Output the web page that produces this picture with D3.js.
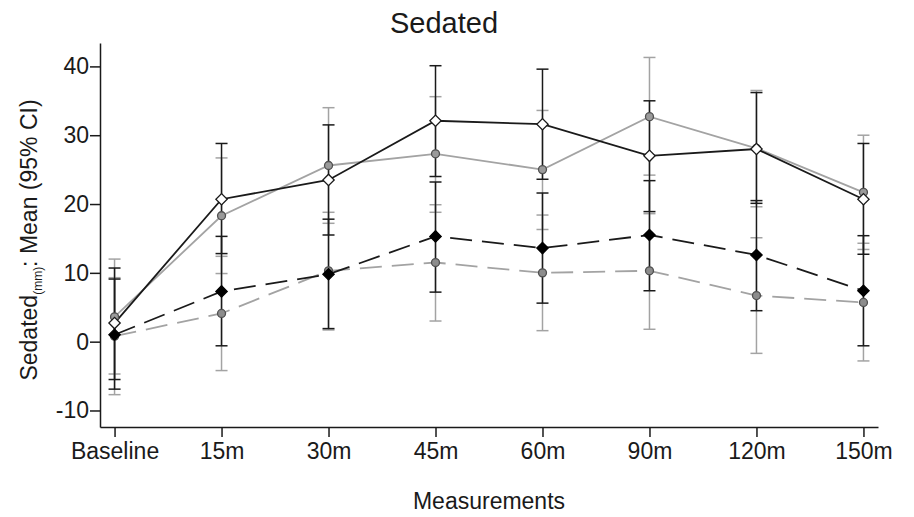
<!DOCTYPE html>
<html>
<head>
<meta charset="utf-8">
<script src="https://cdn.jsdelivr.net/npm/d3@7"></script>
<style>
  body { margin: 0; background: #fff; }
  text { font-family: "Liberation Sans", Arial, Helvetica, sans-serif; fill: #1a1a1a; }
</style>
</head>
<body>
<div id="chart" style="width:914px;height:517px;"></div>
<script>
// data
const categories = ["Baseline", "15m", "30m", "45m", "60m", "90m", "120m", "150m"];
const yTicks = [-10, 0, 10, 20, 30, 40];

// black solid, open diamond
const aMean = [2.7, 20.7, 23.5, 32.1, 31.6, 27.0, 28.0, 20.7];
const aLow  = [-5.5, 12.8, 15.5, 24.0, 23.6, 18.9, 20.1, 12.7];
const aHigh = [10.7, 28.8, 31.5, 40.1, 39.6, 35.0, 36.2, 28.8];

// grey solid, circle
const bMean = [3.6, 18.3, 25.6, 27.3, 25.0, 32.7, 28.1, 21.7];
const bLow  = [-4.7, 9.9, 17.2, 18.8, 16.3, 24.2, 19.6, 13.4];
const bHigh = [12.0, 26.7, 34.0, 35.6, 33.6, 41.3, 36.5, 30.0];

// black dashed, filled diamond
const cMean = [1.0, 7.3, 9.8, 15.3, 13.6, 15.5, 12.6, 7.4];
const cLow  = [-6.9, -0.6, 1.9, 7.2, 5.6, 7.4, 4.5, -0.6];
const cHigh = [9.1, 15.3, 17.8, 23.2, 21.6, 23.4, 20.5, 15.4];

// grey dashed, grey circle
const dMean = [0.8, 4.1, 10.3, 11.5, 10.0, 10.3, 6.7, 5.7];
const dLow  = [-7.7, -4.2, 1.7, 3.0, 1.6, 1.8, -1.7, -2.8];
const dHigh = [9.3, 12.4, 18.8, 19.9, 18.4, 18.6, 15.1, 14.3];

const width = 914, height = 517;
const margin = {top: 43, right: 36, bottom: 90, left: 100};

const svg = d3.select("#chart").append("svg")
    .attr("width", width)
    .attr("height", height);

const x = d3.scalePoint()
    .domain(categories)
    .range([margin.left, width - margin.right])
    .padding(0.136);

const y = d3.scaleLinear()
    .domain([-12.4, 43.4])
    .range([height - margin.bottom, margin.top]);

// axes
const xAxis = svg.append("g")
    .attr("class", "xAxis")
    .attr("transform", "translate(0," + (height - margin.bottom) + ")")
    .call(d3.axisBottom(x).tickSizeInner(10).tickSizeOuter(0).tickPadding(6));

const yAxis = svg.append("g")
    .attr("class", "yAxis")
    .attr("transform", "translate(" + margin.left + ",0)")
    .call(d3.axisLeft(y).tickValues(yTicks).tickFormat(d => String(d)).tickSizeInner(10).tickSizeOuter(0).tickPadding(1));

svg.selectAll(".xAxis, .yAxis")
    .selectAll("path, line")
    .attr("stroke", "#1a1a1a")
    .attr("stroke-width", 1.5);
svg.selectAll(".xAxis text, .yAxis text")
    .attr("font-size", 23)
    .attr("fill", "#1a1a1a");

// series setup
const series = [
    {mean: bMean, low: bLow, high: bHigh, color: "#a3a3a3", dash: null, marker: "circle", fill: "#9a9a9a", stroke: "#505050"},
    {mean: dMean, low: dLow, high: dHigh, color: "#a3a3a3", dash: "22,10", marker: "circle", fill: "#8c8c8c", stroke: "#505050"},
    {mean: aMean, low: aLow, high: aHigh, color: "#1a1a1a", dash: null, marker: "diamond", fill: "#ffffff", stroke: "#1a1a1a"},
    {mean: cMean, low: cLow, high: cHigh, color: "#1a1a1a", dash: "22,10", marker: "diamond", fill: "#000000", stroke: "#000000"}
];

const plot = svg.append("g").attr("id", "plot");
const capW = 6;

// error bars
series.forEach(s => {
    const g = plot.append("g").attr("stroke", s.color).attr("stroke-width", 1.5);
    categories.forEach((c, i) => {
        const cx = x(c);
        g.append("line").attr("x1", cx).attr("x2", cx).attr("y1", y(s.low[i])).attr("y2", y(s.high[i]));
        g.append("line").attr("x1", cx - capW).attr("x2", cx + capW).attr("y1", y(s.low[i])).attr("y2", y(s.low[i]));
        g.append("line").attr("x1", cx - capW).attr("x2", cx + capW).attr("y1", y(s.high[i])).attr("y2", y(s.high[i]));
    });
});

// lines
const line = d3.line()
    .x((d, i) => x(categories[i]))
    .y(d => y(d));

series.forEach(s => {
    plot.append("path")
        .datum(s.mean)
        .attr("d", line)
        .attr("fill", "none")
        .attr("stroke", s.color)
        .attr("stroke-width", 1.8)
        .attr("stroke-dasharray", s.dash);
});

// markers (diamond = square turned 45deg)
const circleSym = d3.symbol().type(d3.symbolCircle).size(50);
const diamondSym = d3.symbol().type(d3.symbolSquare).size(64);

series.forEach(s => {
    plot.append("g").selectAll("path")
        .data(s.mean)
        .join("path")
        .attr("transform", (d, i) => "translate(" + x(categories[i]) + "," + y(d) + ")" + (s.marker === "diamond" ? " rotate(45)" : ""))
        .attr("d", s.marker === "circle" ? circleSym : diamondSym)
        .attr("fill", s.fill)
        .attr("stroke", s.stroke)
        .attr("stroke-width", 1.3);
});

// title
svg.append("text")
    .attr("x", 444)
    .attr("y", 33)
    .attr("text-anchor", "middle")
    .attr("font-size", 29)
    .text("Sedated");

// x label
svg.append("text")
    .attr("x", (margin.left + width - margin.right) / 2)
    .attr("y", 509)
    .attr("text-anchor", "middle")
    .attr("font-size", 23)
    .text("Measurements");

// y label with subscript
const yl = svg.append("text")
    .attr("transform", "translate(37,240) rotate(-90)")
    .attr("text-anchor", "middle")
    .attr("font-size", 23);
yl.append("tspan").text("Sedated");
yl.append("tspan").attr("font-size", 12).attr("dy", 5).text("(mm)");
yl.append("tspan").attr("dy", -5).text(": Mean (95% CI)");
</script>
</body>
</html>
